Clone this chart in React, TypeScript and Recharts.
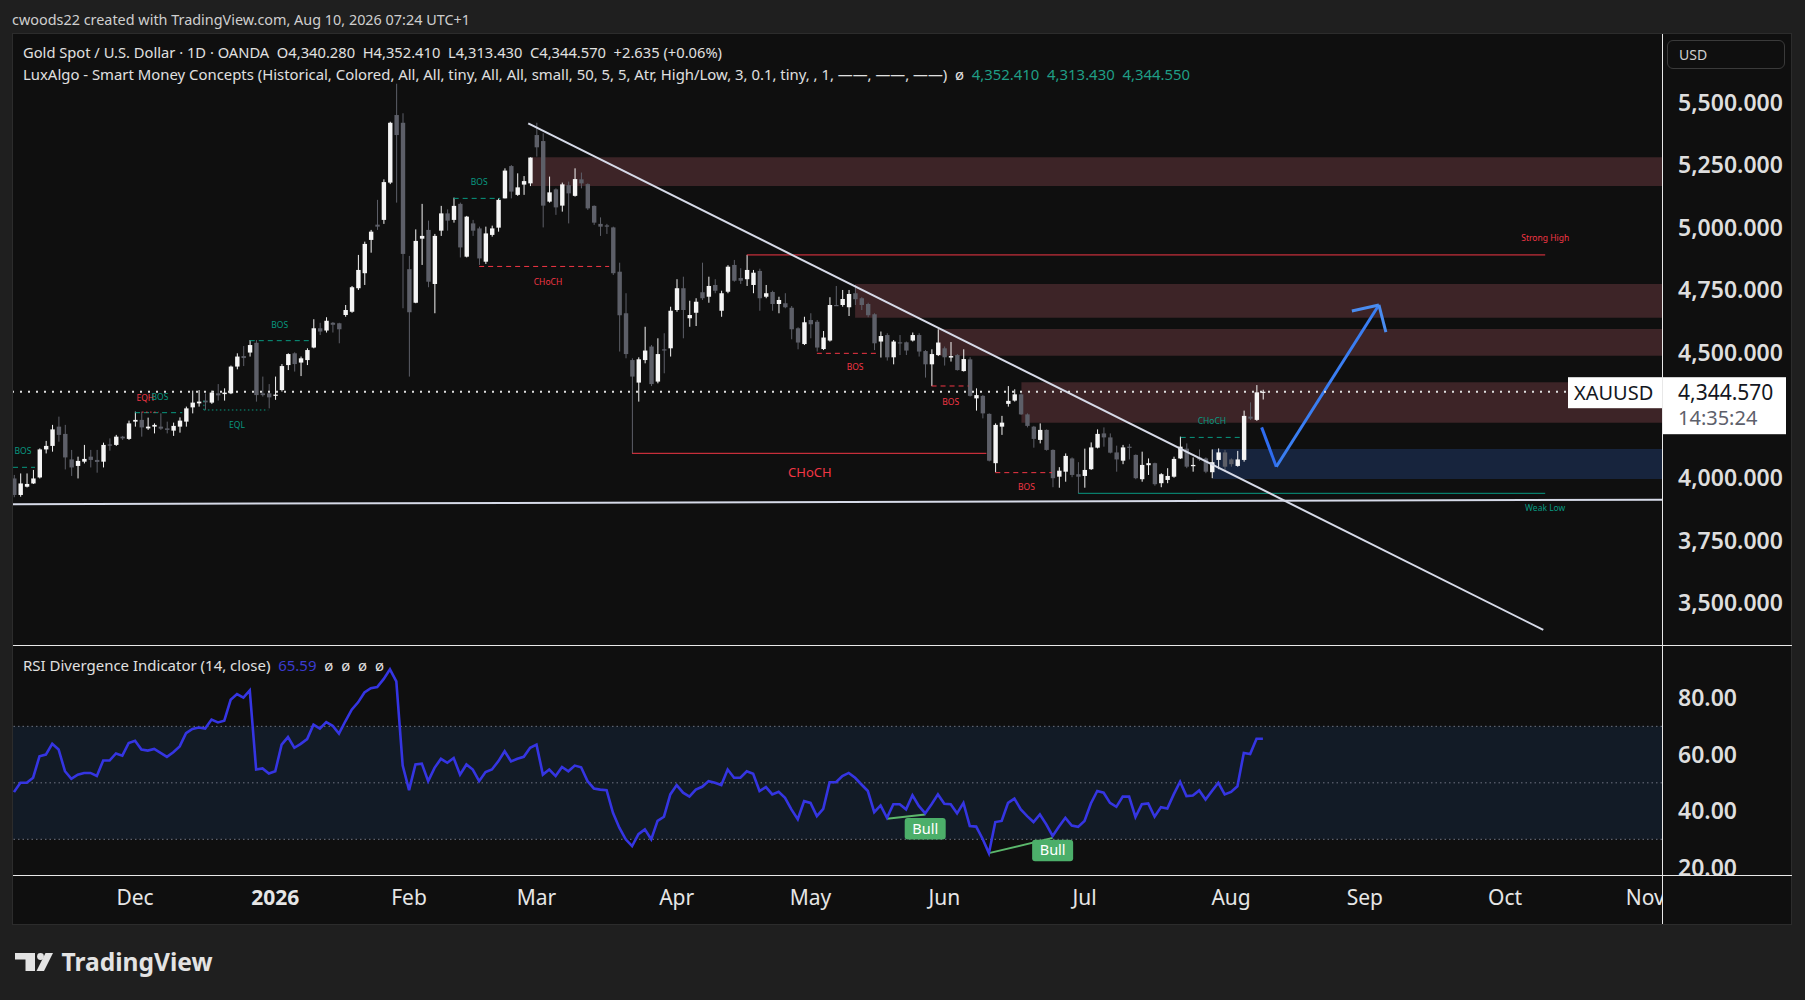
import { Bar, ComposedChart, Line, ReferenceArea, ReferenceDot, ReferenceLine, XAxis, YAxis } from 'recharts'

// XAUUSD daily candles, Nov 2025 -> Aug 10 2026
const opens = [3998, 3932, 3965, 3978, 4002, 4114, 4128, 4205, 4176, 4074, 4048, 4065, 4085, 4072, 4065, 4134, 4132, 4165, 4156, 4225, 4232, 4198, 4205, 4205, 4198, 4189, 4205, 4225, 4282, 4298, 4309, 4301, 4338, 4335, 4338, 4445, 4487, 4501, 4540, 4338, 4338, 4328, 4351, 4451, 4498, 4461, 4471, 4521, 4598, 4589, 4620, 4618, 4651, 4664, 4758, 4818, 4951, 5012, 5031, 5180, 5450, 5419, 4834, 4700, 4956, 4991, 4775, 4988, 5057, 5031, 5095, 4884, 5017, 4997, 4864, 4971, 5000, 5117, 5246, 5131, 5172, 5177, 5370, 5346, 5104, 5153, 5088, 5170, 5127, 5193, 5174, 5087, 5015, 5009, 5001, 4824, 4658, 4471, 4381, 4471, 4525, 4385, 4514, 4518, 4671, 4758, 4638, 4660, 4742, 4724, 4771, 4668, 4744, 4851, 4799, 4794, 4771, 4827, 4724, 4743, 4695, 4698, 4680, 4598, 4535, 4631, 4624, 4515, 4549, 4691, 4691, 4682, 4738, 4718, 4695, 4654, 4545, 4571, 4482, 4542, 4542, 4549, 4571, 4507, 4454, 4491, 4518, 4481, 4491, 4427, 4474, 4318, 4328, 4256, 4059, 4205, 4296, 4309, 4334, 4254, 4205, 4152, 4192, 4112, 4005, 4025, 4078, 4015, 4008, 4035, 4121, 4178, 4162, 4102, 4069, 4125, 4092, 3995, 4051, 4059, 3979, 3992, 4005, 4078, 4117, 4047, 4082, 4078, 4023, 4072, 4102, 4074, 4048, 4072, 4245, 4232, 4340.28]
const highs = [4012, 4018, 4018, 4032, 4118, 4148, 4212, 4245, 4212, 4112, 4085, 4132, 4112, 4112, 4141, 4158, 4172, 4168, 4229, 4265, 4265, 4241, 4218, 4258, 4225, 4221, 4242, 4285, 4349, 4351, 4338, 4349, 4375, 4358, 4449, 4498, 4527, 4551, 4551, 4405, 4375, 4405, 4455, 4498, 4502, 4485, 4518, 4634, 4620, 4642, 4623, 4620, 4691, 4767, 4891, 4944, 4991, 5111, 5193, 5423, 5575, 5457, 4887, 4993, 5095, 5028, 4975, 5087, 5073, 5120, 5100, 5047, 5031, 5004, 5004, 5008, 5117, 5237, 5250, 5217, 5206, 5281, 5419, 5377, 5204, 5157, 5180, 5184, 5237, 5220, 5177, 5089, 5041, 5015, 5004, 4860, 4738, 4478, 4482, 4604, 4531, 4558, 4578, 4684, 4794, 4804, 4708, 4718, 4860, 4804, 4794, 4748, 4850, 4871, 4838, 4891, 4831, 4836, 4771, 4748, 4724, 4738, 4687, 4602, 4644, 4658, 4631, 4587, 4722, 4767, 4751, 4751, 4771, 4722, 4700, 4658, 4585, 4578, 4551, 4571, 4545, 4581, 4578, 4511, 4514, 4594, 4525, 4543, 4495, 4514, 4482, 4358, 4331, 4258, 4218, 4248, 4367, 4354, 4338, 4258, 4208, 4218, 4194, 4114, 4043, 4098, 4082, 4063, 4117, 4142, 4194, 4202, 4178, 4129, 4132, 4136, 4094, 4105, 4078, 4061, 4019, 4039, 4085, 4165, 4138, 4082, 4114, 4082, 4114, 4118, 4112, 4078, 4108, 4269, 4302, 4371, 4352.41]
const lows = [3923, 3925, 3962, 3976, 3998, 4098, 4105, 4145, 4034, 4008, 3998, 4058, 4042, 4021, 4042, 4109, 4128, 4152, 4152, 4205, 4165, 4192, 4178, 4192, 4178, 4168, 4181, 4205, 4258, 4285, 4272, 4296, 4309, 4309, 4335, 4434, 4447, 4485, 4305, 4325, 4278, 4312, 4345, 4431, 4425, 4407, 4451, 4518, 4571, 4581, 4581, 4538, 4644, 4660, 4751, 4771, 4900, 4991, 5015, 5174, 5100, 4678, 4405, 4698, 4851, 4762, 4658, 4967, 4988, 5020, 4881, 4881, 4967, 4851, 4855, 4964, 4984, 5117, 5117, 5127, 5131, 5166, 5284, 5001, 5100, 5051, 5064, 5017, 5124, 5157, 5071, 5011, 4967, 4975, 4811, 4505, 4478, 4098, 4305, 4458, 4367, 4378, 4418, 4485, 4664, 4558, 4604, 4607, 4711, 4700, 4738, 4644, 4738, 4784, 4775, 4767, 4738, 4668, 4718, 4668, 4658, 4678, 4554, 4514, 4531, 4558, 4505, 4511, 4545, 4687, 4684, 4647, 4691, 4671, 4642, 4511, 4481, 4469, 4454, 4491, 4491, 4545, 4485, 4401, 4367, 4487, 4449, 4465, 4429, 4425, 4325, 4269, 4238, 4066, 4023, 4172, 4285, 4305, 4252, 4202, 4121, 4138, 4109, 3963, 3961, 3985, 4003, 3939, 3961, 4032, 4118, 4125, 4098, 4025, 4055, 4074, 3995, 3985, 4012, 3969, 3963, 3979, 4001, 4076, 4039, 4025, 4068, 4019, 3999, 4035, 4025, 4045, 4045, 4065, 4232, 4228, 4313.43]
const closes = [3932, 3978, 3976, 3998, 4114, 4128, 4194, 4172, 4082, 4042, 4068, 4076, 4072, 4064, 4132, 4129, 4165, 4158, 4218, 4232, 4202, 4205, 4212, 4197, 4192, 4208, 4229, 4278, 4301, 4305, 4302, 4341, 4330, 4341, 4445, 4485, 4479, 4531, 4331, 4331, 4322, 4333, 4447, 4495, 4455, 4478, 4511, 4598, 4585, 4628, 4612, 4594, 4671, 4762, 4831, 4935, 4984, 5004, 5182, 5419, 5370, 4895, 4662, 4947, 4967, 4784, 4967, 5057, 5028, 5087, 4921, 5044, 4988, 4877, 4977, 4997, 5111, 5228, 5144, 5161, 5186, 5280, 5321, 5088, 5141, 5081, 5173, 5137, 5194, 5177, 5077, 5020, 5004, 5004, 4818, 4650, 4495, 4405, 4474, 4509, 4375, 4495, 4509, 4668, 4758, 4671, 4651, 4704, 4718, 4767, 4748, 4738, 4844, 4788, 4788, 4831, 4820, 4718, 4738, 4695, 4711, 4682, 4594, 4541, 4622, 4614, 4521, 4561, 4691, 4688, 4715, 4735, 4714, 4691, 4650, 4538, 4567, 4482, 4545, 4539, 4509, 4571, 4505, 4454, 4495, 4541, 4482, 4487, 4431, 4475, 4328, 4331, 4258, 4069, 4212, 4221, 4308, 4334, 4254, 4208, 4156, 4192, 4112, 3999, 4029, 4088, 4012, 4005, 4032, 4122, 4176, 4162, 4101, 4074, 4122, 4120, 3999, 4052, 4059, 3975, 4015, 4008, 4076, 4125, 4045, 4052, 4074, 4025, 4063, 4102, 4045, 4055, 4074, 4248, 4237, 4342, 4344.57]

// RSI (14, close), one value per candle
const rsiValues = [46.7, 50, 50, 51.8, 59.4, 60, 63.8, 61.8, 54.1, 51.4, 52.9, 53.5, 53.5, 52.4, 57.9, 57.9, 60.4, 59.6, 64.1, 64.9, 61.8, 61.4, 62, 60.6, 59.2, 60.8, 62.9, 67.6, 69.1, 69.6, 69.2, 72.4, 71.4, 72, 79.4, 81.4, 80.2, 82.7, 54.7, 55.1, 53.3, 54.1, 63.5, 66.2, 62.4, 63.8, 65.5, 70.6, 69.2, 71.5, 70.2, 67.4, 71.8, 75.9, 78.5, 82, 83.5, 83.9, 86.7, 90.2, 85.9, 56.1, 47.4, 56.5, 56.8, 50.6, 55.3, 58.5, 57.1, 58.8, 52.9, 56.5, 54.7, 50.6, 53.8, 54.7, 57.6, 61.2, 57.6, 58.5, 59.2, 62.4, 63.5, 52.9, 54.7, 52.4, 55.6, 54.1, 56.1, 55.5, 50.6, 48, 47.6, 47.4, 39.4, 34.1, 30, 27.6, 31.8, 33.5, 30, 36.5, 38, 45.9, 49.2, 46.5, 45.1, 47.6, 48.6, 50.6, 50, 49.2, 54.7, 51.8, 51.8, 54.1, 53.2, 47.1, 48.5, 45.9, 46.8, 44.7, 40.6, 37.1, 43.5, 42.9, 38.2, 40.8, 50.2, 50.2, 52.4, 53.5, 51.8, 49.4, 47.1, 39.6, 42, 37.6, 42.4, 42.4, 40.6, 45.6, 41.8, 39.2, 42.4, 45.9, 42.6, 42.4, 39.2, 42.9, 34.7, 34.5, 30.2, 25.1, 36.1, 36.5, 42.9, 44.4, 40.6, 38.2, 36.1, 38.8, 35.3, 31.2, 34.5, 37.6, 34.9, 34.4, 36.5, 42.7, 47.1, 46.5, 42.9, 41.5, 45.1, 45.1, 37.9, 42.4, 42.7, 38, 41.4, 40.9, 45.9, 50.4, 45.3, 45.5, 47.3, 44.1, 47.1, 50, 45.9, 46.8, 48.8, 60.6, 60.2, 65.6, 65.59]

const monthTicks = [19, 41, 62, 82, 104, 125, 146, 168, 191, 212, 234, 256]
const monthLabels = ['Dec', '2026', 'Feb', 'Mar', 'Apr', 'May', 'Jun', 'Jul', 'Aug', 'Sep', 'Oct', 'Nov']
const priceTicks = [3500, 3750, 4000, 4500, 4750, 5000, 5250, 5500]
const rsiTicks = [20, 40, 60, 80]

// order blocks: [startBar, bottom, top]
const supplyZones = [[81.2, 5166, 5281], [132, 4640, 4775], [145, 4488, 4595], [158.1, 4221, 4382]]
const demandZones = [[188.1, 3996, 4116]]

// structure lines: [fromBar, toBar, price, side, style]
const structureLines: Array<[number, number, number, string, string]> = [
  [-0.15, 3.3, 4042.5, 'bull', 'dash'],
  [19, 26.4, 4260.8, 'bull', 'dash'],
  [20.1, 22.7, 4263, 'bear', 'dot'],
  [29.8, 39.9, 4271.5, 'bull', 'dot'],
  [37, 46.5, 4548.5, 'bull', 'dash'],
  [69, 76.3, 5117, 'bull', 'dash'],
  [73, 93.4, 4845, 'bear', 'dash'],
  [97, 152.6, 4098.4, 'bear', 'solid'],
  [115, 240.3, 4891, 'bear', 'solid'],
  [126, 135.6, 4497.9, 'bear', 'dash'],
  [144, 149.8, 4367.4, 'bear', 'dash'],
  [154, 162.9, 4021.2, 'bear', 'dash'],
  [167, 240.3, 3938.6, 'bull', 'solid'],
  [183.1, 192.7, 4162, 'bull', 'dash'],
]
// structure labels: [bar, price, text, side, big]
const structureLabels: Array<[number, number, string, string, boolean]> = [
  [1.4, 4111, 'BOS', 'bull', false],
  [20.6, 4320, 'EQH', 'bear', false],
  [22.9, 4324, 'BOS', 'bull', false],
  [35, 4215, 'EQL', 'bull', false],
  [41.7, 4615, 'BOS', 'bull', false],
  [73, 5184, 'BOS', 'bull', false],
  [83.8, 4784, 'CHoCH', 'bear', false],
  [124.9, 4024, 'CHoCH', 'bear', true],
  [132, 4444, 'BOS', 'bear', false],
  [147, 4305, 'BOS', 'bear', false],
  [158.9, 3965, 'BOS', 'bear', false],
  [188, 4231, 'CHoCH', 'bull', false],
  [240.3, 4959, 'Strong High', 'bear', false],
  [240.3, 3882, 'Weak Low', 'bull', false],
]

const trendline = [{ x: 80.7, y: 5417 }, { x: 240, y: 3393 }]
const support = [{ x: -0.157, y: 3895 }, { x: 258.63, y: 3913 }]
const arrowPath = [{ x: 195.8, y: 4202 }, { x: 198.1, y: 4045 }, { x: 214.2, y: 4691 }]
const arrowHead = [{ x: 209.96, y: 4667 }, { x: 215.3, y: 4583 }]

// RSI bullish divergences: [fromBar, fromRsi, toBar, toRsi]
const divergences = [[137, 37.3, 143, 38.8], [153, 25.1, 163, 30.5]]
const bullLabels = [[143, 37.5], [163, 29.8]]

const LAST = 4344.57
const X_MIN = -0.157
const X_MAX = 258.63
const FONT = '"Noto Sans", Roboto, sans-serif'
const UP = '#f5f5f5'
const DOWN = '#5d5f68'
const RED = '#f23645'
const TEAL = '#089981'

const candles = opens.map((open, i) => ({
  i,
  open,
  high: highs[i],
  low: lows[i],
  close: closes[i],
  range: [lows[i], highs[i]],
}))
const rsiData = rsiValues.map((rsi, i) => ({ i, rsi }))

function Candle(props: any) {
  const { x, y, width, height, payload } = props
  const top = Math.min(y, y + height)
  const span = Math.abs(height)
  const perUnit = span / (payload.high - payload.low || 1)
  const yOf = (v: number) => top + (payload.high - v) * perUnit
  const color = payload.close >= payload.open ? UP : DOWN
  const cx = x + width / 2
  const bodyTop = yOf(Math.max(payload.open, payload.close))
  const bodyBottom = yOf(Math.min(payload.open, payload.close))
  return (
    <g>
      <line x1={cx} x2={cx} y1={top} y2={top + span} stroke={color} strokeWidth={1} />
      <rect x={cx - 2.2} y={bodyTop} width={4.4} height={Math.max(1.2, bodyBottom - bodyTop)} fill={color} />
    </g>
  )
}

const fmtPrice = (v: number) => v.toLocaleString('en-US', { minimumFractionDigits: 3, maximumFractionDigits: 3 })

function PriceTick({ x, y, payload }: any) {
  return (
    <text x={x + 8} y={y + 8} fill="#dedede" fontSize={23} fontWeight={600} fontFamily={FONT}>
      {fmtPrice(payload.value)}
    </text>
  )
}

function RsiTick({ x, y, payload }: any) {
  return (
    <text x={x + 8} y={y + 8} fill="#dedede" fontSize={23} fontWeight={600} fontFamily={FONT}>
      {payload.value.toFixed(2)}
    </text>
  )
}

function TimeTick({ x, y, payload }: any) {
  const label = monthLabels[monthTicks.indexOf(payload.value)]
  return (
    <text x={x} y={y + 22} textAnchor="middle" fill="#e6e6e6" fontSize={21} fontWeight={label === '2026' ? 700 : 400} fontFamily={FONT}>
      {label}
    </text>
  )
}

function PriceBadge(props: any) {
  const { viewBox } = props
  const r = viewBox.x + viewBox.width
  const y = viewBox.y
  return (
    <g fontFamily={FONT}>
      <rect x={r - 94} y={y - 14.5} width={94} height={31} fill="#ffffff" />
      <text x={r - 88} y={y + 8} fontSize={20} fill="#131722">XAUUSD</text>
      <rect x={r} y={y - 14.5} width={124} height={57} fill="#ffffff" />
      <text x={r + 16} y={y + 8} fontSize={21} fill="#131722">{fmtPrice(LAST)}</text>
      <text x={r + 16} y={y + 33} fontSize={20} fill="#5d606b">14:35:24</text>
    </g>
  )
}

const textShape = (text: string, color: string, big: boolean) => (p: any) => (
  <text x={p.cx} y={p.cy} textAnchor="middle" dominantBaseline="central" fill={color} fontSize={big ? 13 : 8.5} fontFamily={FONT}>
    {text}
  </text>
)

const bullShape = (p: any) => (
  <g>
    <rect x={p.cx - 20.5} y={p.cy} width={41} height={21.5} rx={3} fill="#4caf6a" />
    <text x={p.cx} y={p.cy + 15.5} textAnchor="middle" fill="#ffffff" fontSize={14.5} fontFamily={FONT}>Bull</text>
  </g>
)

const dashFor = (style: string) => (style === 'dash' ? '5 4' : style === 'dot' ? '1.5 2.5' : undefined)

export default function App() {
  return (
    <div style={{ position: 'fixed', left: 0, top: 0, width: 1805, height: 1000, background: '#1f1f1f', overflow: 'hidden', fontFamily: FONT }}>
      <div style={{ position: 'absolute', left: 12, top: 33, width: 1778, height: 890, background: '#0f0f0f', border: '1px solid #2c2c2c' }} />

      <div style={{ position: 'absolute', left: 13, top: 34 }}>
        <ComposedChart width={1779} height={611} data={candles} margin={{ top: 0, right: 0, bottom: 0, left: 0 }}>
          <XAxis type="number" dataKey="i" domain={[X_MIN, X_MAX]} hide allowDataOverflow />
          <YAxis orientation="right" type="number" domain={[3332.6, 5773.7]} ticks={priceTicks} width={130} axisLine={false} tickLine={false} tick={<PriceTick />} allowDataOverflow interval={0} />
          {supplyZones.map(([x1, y1, y2]) => (
            <ReferenceArea key={`s${x1}`} x1={x1} x2={X_MAX} y1={y1} y2={y2} fill="#3d2427" fillOpacity={1} stroke="none" />
          ))}
          {demandZones.map(([x1, y1, y2]) => (
            <ReferenceArea key={`d${x1}`} x1={x1} x2={X_MAX} y1={y1} y2={y2} fill="#17243d" fillOpacity={1} stroke="none" />
          ))}
          <ReferenceLine segment={support} stroke="#d6dae8" strokeWidth={2} ifOverflow="hidden" />
          {structureLines.map(([x1, x2, price, side, style]) => (
            <ReferenceLine key={`l${x1}-${price}`} segment={[{ x: x1, y: price }, { x: x2, y: price }]} stroke={side === 'bull' ? TEAL : RED} strokeWidth={1} strokeDasharray={dashFor(style)} ifOverflow="hidden" />
          ))}
          <ReferenceLine segment={[{ x: 29.8, y: 4308.8 }, { x: 29.8, y: 4271.5 }]} stroke={TEAL} strokeDasharray="1.5 2.5" />
          {structureLabels.map(([bar, price, text, side, big]) => (
            <ReferenceDot key={`t${bar}-${text}`} x={bar} y={price} r={1} ifOverflow="visible" shape={textShape(text, side === 'bull' ? TEAL : RED, big)} />
          ))}
          <Bar dataKey="range" barSize={5} shape={Candle} isAnimationActive={false} />
          <ReferenceLine segment={trendline} stroke="#d6dae8" strokeWidth={2} />
          <ReferenceLine segment={[arrowPath[0], arrowPath[1]]} stroke="#2f6cf0" strokeWidth={3} />
          <ReferenceLine segment={[arrowPath[1], arrowPath[2]]} stroke="#3a7ef2" strokeWidth={3} />
          {arrowHead.map((p) => (
            <ReferenceLine key={`h${p.x}`} segment={[arrowPath[2], p]} stroke="#4a8cf0" strokeWidth={3} />
          ))}
          <ReferenceLine y={LAST} stroke="#e0e0e0" strokeWidth={2} strokeDasharray="2 6" label={(p: any) => <PriceBadge {...p} />} />
        </ComposedChart>
      </div>

      <div style={{ position: 'absolute', left: 13, top: 645 }}>
        <ComposedChart width={1779} height={279} data={rsiData} margin={{ top: 0, right: 0, bottom: 0, left: 0 }}>
          <XAxis type="number" dataKey="i" domain={[X_MIN, X_MAX]} ticks={monthTicks} interval={0} height={49} axisLine={false} tickLine={false} tick={<TimeTick />} allowDataOverflow />
          <YAxis orientation="right" type="number" domain={[17.36, 98.8]} ticks={rsiTicks} width={130} axisLine={false} tickLine={false} tick={<RsiTick />} allowDataOverflow interval={0} />
          <ReferenceArea y1={30} y2={70} fill="#121b26" fillOpacity={1} stroke="none" />
          {[70, 50, 30].map((v) => (
            <ReferenceLine key={v} y={v} stroke="#6f7480" strokeDasharray="1.5 3" />
          ))}
          {divergences.map(([x1, y1, x2, y2]) => (
            <ReferenceLine key={`v${x1}`} segment={[{ x: x1, y: y1 }, { x: x2, y: y2 }]} stroke="#5cb86c" strokeWidth={2} />
          ))}
          <Line dataKey="rsi" stroke="#3535e2" strokeWidth={2.6} dot={false} isAnimationActive={false} />
          {bullLabels.map(([bar, v]) => (
            <ReferenceDot key={`b${bar}`} x={bar} y={v} r={1} ifOverflow="visible" shape={bullShape} />
          ))}
        </ComposedChart>
      </div>

      <div style={{ position: 'absolute', left: 1663, top: 876, width: 128, height: 47, background: '#0f0f0f' }} />
      <div style={{ position: 'absolute', left: 13, top: 644.5, width: 1779, height: 1, background: '#e8e8e8' }} />
      <div style={{ position: 'absolute', left: 13, top: 874.5, width: 1779, height: 1, background: '#e8e8e8' }} />
      <div style={{ position: 'absolute', left: 1661.5, top: 34, width: 1, height: 890, background: '#e8e8e8' }} />

      <div style={{ position: 'absolute', left: 1667, top: 40, width: 118, height: 29, border: '1px solid #3a3a3a', borderRadius: 6, boxSizing: 'border-box', color: '#d0d0d0', fontSize: 14, lineHeight: '27px', paddingLeft: 11 }}>USD</div>

      <svg width={1805} height={1000} style={{ position: 'absolute', left: 0, top: 0, pointerEvents: 'none' }} fontFamily={FONT}>
        <text x={12} y={25} fontSize={15} fill="#cfcfcf" textLength={458} lengthAdjust="spacingAndGlyphs">
          cwoods22 created with TradingView.com, Aug 10, 2026 07:24 UTC+1
        </text>
        <text x={23} y={58} fontSize={14.5} fill="#e0e0e0" textLength={699} lengthAdjust="spacingAndGlyphs" style={{ whiteSpace: 'pre' }}>
          Gold Spot / U.S. Dollar · 1D · OANDA  O4,340.280  H4,352.410  L4,313.430  C4,344.570  +2.635 (+0.06%)
        </text>
        <text x={23} y={80} fontSize={14.5} fill="#e0e0e0" textLength={1167} lengthAdjust="spacingAndGlyphs" style={{ whiteSpace: 'pre' }}>
          LuxAlgo - Smart Money Concepts (Historical, Colored, All, All, tiny, All, All, small, 50, 5, 5, Atr, High/Low, 3, 0.1, tiny, , 1, ——, ——, ——)  ø  <tspan fill="#1f9e86">4,352.410  4,313.430  4,344.550</tspan>
        </text>
        <text x={23} y={671} fontSize={15} fill="#e0e0e0" textLength={361} lengthAdjust="spacingAndGlyphs" style={{ whiteSpace: 'pre' }}>
          RSI Divergence Indicator (14, close)  <tspan fill="#3b3bd0">65.59</tspan>  ø  ø  ø  ø
        </text>

        <g fill="#e3e3e3">
          <rect x={15} y={953} width={20} height={6.5} />
          <rect x={25.5} y={953} width={9.5} height={18} />
          <circle cx={40.5} cy={956.5} r={3.4} />
          <polygon points="45.5,953 53,953 44,971 36.5,971" />
          <text x={61.5} y={971} fontSize={25} fontWeight={700} textLength={151} lengthAdjust="spacingAndGlyphs">TradingView</text>
        </g>
      </svg>
    </div>
  )
}
